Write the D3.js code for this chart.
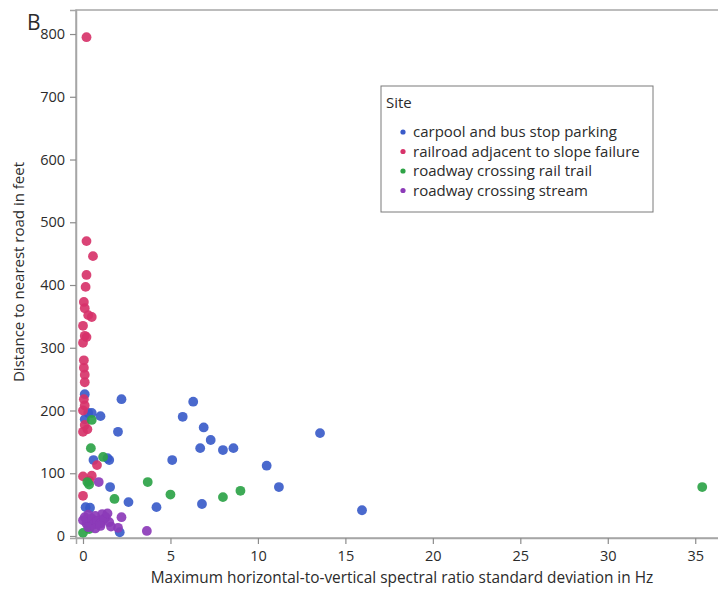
<!DOCTYPE html>
<html>
<head>
<meta charset="utf-8">
<script src="https://cdn.jsdelivr.net/npm/d3@7"></script>
<style>
  html, body { margin: 0; padding: 0; background: #fff; }
  svg text { font-family: "Open Sans", "Noto Sans", sans-serif; fill: #2b2b2b; }
</style>
</head>
<body>
<svg id="chart" width="718" height="604"></svg>
<script>
// Site categories and their marker colours
const sites = [
  "carpool and bus stop parking",
  "railroad adjacent to slope failure",
  "roadway crossing rail trail",
  "roadway crossing stream"
];
const siteColors = ["#3a5bc9", "#d7336a", "#2ea346", "#8c3bb8"];

// Max HVSR standard deviation (Hz) and distance to road (ft) per site
const carpoolX = [0.1, 2.2, 6.3, 0.3, 0.5, 1.0, 5.7, 0.1, 2.0, 6.9, 7.3, 6.7, 8.0, 8.6, 0.6, 1.4, 1.5, 5.1, 1.55, 6.8, 2.6, 4.2, 0.15, 0.4, 13.55, 10.5, 11.2, 15.95, 2.1];
const carpoolY = [226, 218, 214, 196, 196, 191, 190, 186, 166, 173, 153, 140, 137, 140, 121, 124, 121, 121, 78, 51, 54, 46, 46, 45, 164, 112, 78, 41, 6];

const railroadX = [0.2, 0.2, 0.57, 0.2, 0.15, 0.05, 0.1, 0.3, 0.5, 0.0, 0.1, 0.2, 0.0, 0.05, 0.05, 0.1, 0.1, 0.05, 0.1, 0.0, 0.1, 0.25, 0.0, 0.8, 0.0, 0.5, 0.35, 0.0];
const railroadY = [795, 470, 446, 416, 397, 373, 363, 352, 349, 335, 319, 317, 308, 280, 268, 257, 245, 218, 208, 200, 177, 170, 166, 113, 95, 96, 88, 64];

const railTrailX = [0.5, 0.45, 1.15, 0.25, 0.35, 3.7, 1.8, 5.0, 8.0, 9.0, 35.4, 0.0, 0.35];
const railTrailY = [185, 140, 126, 86, 82, 86, 59, 66, 62, 72, 78, 5, 11];

const streamX = [0.9, 0.1, 0.3, 0.5, 0.7, 0.9, 1.1, 1.3, 1.5, 0.2, 0.4, 0.6, 0.8, 1.0, 1.2, 1.6, 0.0, 0.3, 0.7, 1.0, 2.2, 2.0, 3.65, 1.4];
const streamY = [86, 30, 34, 28, 32, 25, 35, 30, 22, 20, 22, 18, 24, 20, 27, 15, 25, 14, 12, 16, 30, 13, 8, 36];

const xTicks = [0, 5, 10, 15, 20, 25, 30, 35];
const yTicks = [0, 100, 200, 300, 400, 500, 600, 700, 800];

const seriesX = [carpoolX, railroadX, railTrailX, streamX];
const seriesY = [carpoolY, railroadY, railTrailY, streamY];

const svg = d3.select("#chart");
const plot = { left: 76, top: 10, right: 722, bottom: 538 };

const x = d3.scaleLinear().domain([-0.4, 36.53]).range([plot.left, plot.right]);
const y = d3.scaleLinear().domain([-3.2, 838.3]).range([plot.bottom, plot.top]);

// Frame
svg.append("rect")
  .attr("x", plot.left).attr("y", plot.top)
  .attr("width", plot.right - plot.left).attr("height", plot.bottom - plot.top)
  .attr("fill", "none").attr("stroke", "#a6a6a6").attr("stroke-width", 1.5);

// Points
const blur = svg.append("defs").append("filter").attr("id", "soft");
blur.append("feGaussianBlur").attr("stdDeviation", 0.5);

const pts = svg.append("g").attr("filter", "url(#soft)");
sites.forEach((s, i) => {
  const data = seriesX[i].map((v, j) => [v, seriesY[i][j]]);
  pts.selectAll(null).data(data).enter().append("circle")
    .attr("cx", d => x(d[0]))
    .attr("cy", d => y(d[1]))
    .attr("r", 4.9)
    .attr("fill", siteColors[i])
    .attr("fill-opacity", 0.92);
});

// Axes
const xAxis = svg.append("g")
  .attr("transform", `translate(0,${plot.bottom})`)
  .call(d3.axisBottom(x).tickValues(xTicks).tickSize(6).tickPadding(7).tickFormat(d3.format("d")));
const yAxis = svg.append("g")
  .attr("transform", `translate(${plot.left},0)`)
  .call(d3.axisLeft(y).tickValues(yTicks).tickSize(6).tickPadding(5).tickFormat(d3.format("d")));

[xAxis, yAxis].forEach(a => {
  a.select(".domain").attr("stroke", "#a6a6a6").attr("stroke-width", 1.5);
  a.selectAll(".tick line").attr("stroke", "#8c8c8c").attr("stroke-width", 1.2);
  a.selectAll(".tick text").attr("font-size", 14.5).attr("fill", "#2b2b2b")
    .style("font-family", "'Open Sans', 'Noto Sans', sans-serif");
});

// Axis titles
svg.append("text")
  .attr("x", 402).attr("y", 583)
  .attr("text-anchor", "middle").attr("font-size", 15.4)
  .text("Maximum horizontal-to-vertical spectral ratio standard deviation in Hz");

svg.append("text")
  .attr("transform", "translate(24,272) rotate(-90)")
  .attr("text-anchor", "middle").attr("font-size", 15)
  .text("Distance to nearest road in feet");

// Panel letter
svg.append("text")
  .attr("x", 27).attr("y", 30).attr("font-size", 21)
  .text("B");

// Legend
const lg = svg.append("g").attr("transform", "translate(381,86)");
lg.append("rect").attr("width", 272).attr("height", 126)
  .attr("fill", "#fff").attr("stroke", "#7a7a7a").attr("stroke-width", 1);
lg.append("text").attr("x", 5).attr("y", 22).attr("font-size", 15).text("Site");
sites.forEach((s, i) => {
  const row = lg.append("g").attr("transform", `translate(0,${46 + i * 19.5})`);
  row.append("circle").attr("cx", 22).attr("cy", 0).attr("r", 2.6).attr("fill", siteColors[i]);
  row.append("text").attr("x", 32).attr("y", 5).attr("font-size", 15).text(s);
});
</script>
</body>
</html>
